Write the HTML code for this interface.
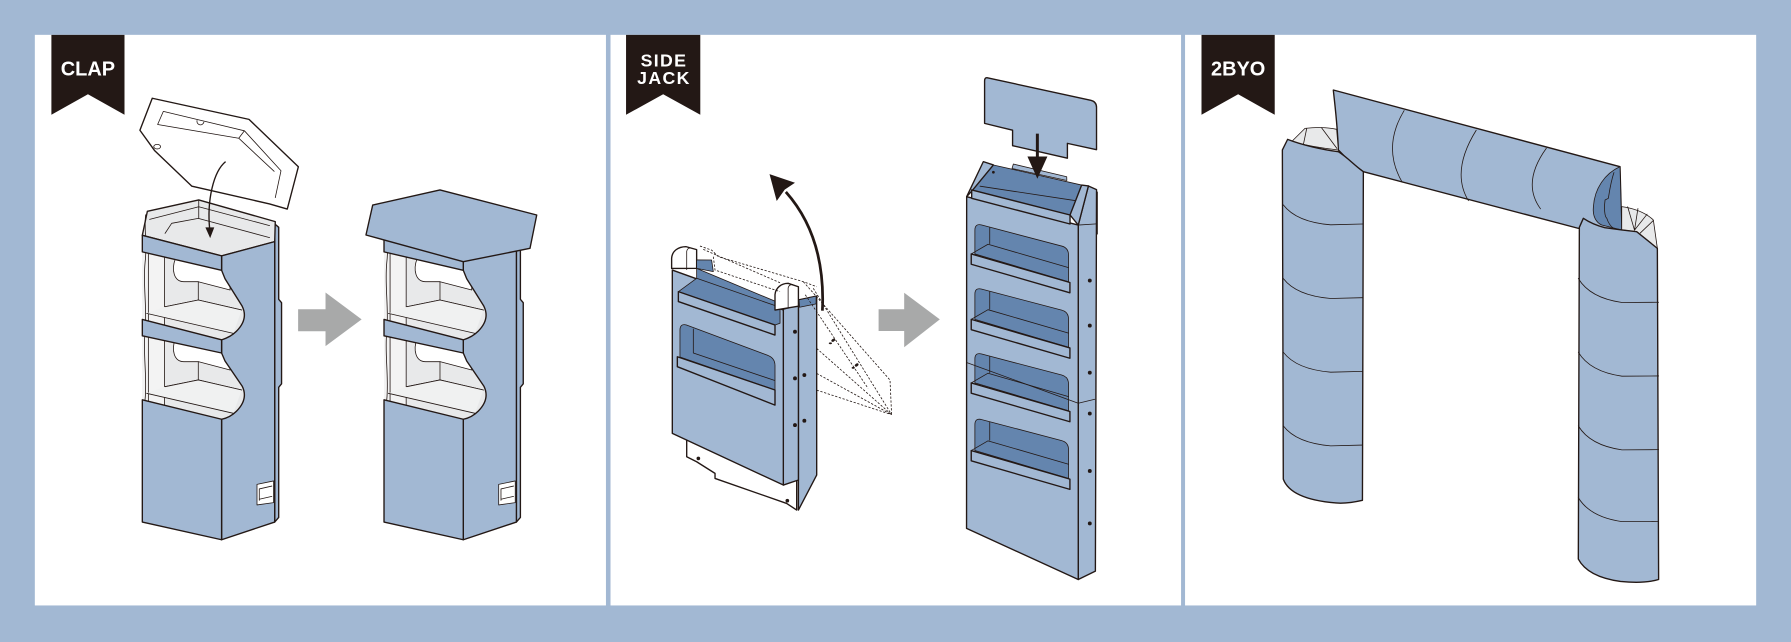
<!DOCTYPE html>
<html><head><meta charset="utf-8">
<style>
html,body{margin:0;padding:0;background:#a2b8d3;}
svg{display:block}
.o{stroke:#231815;stroke-width:1.2;stroke-linejoin:round;stroke-linecap:round}
.t{stroke-width:0.7}
.b{fill:#a2b8d3}
.d{fill:#6485ae}
.g{fill:#e8e9ea}
.w{fill:#ffffff}
.n{fill:none}
.k{fill:#231815}
.ds{fill:none;stroke:#231815;stroke-width:0.7;stroke-dasharray:2 1.4}
.lbl{font-family:"Liberation Sans",Arial,sans-serif;font-weight:bold;fill:#fff}
</style></head>
<body>
<svg width="1791" height="642" viewBox="0 0 1568 562" preserveAspectRatio="none" xmlns="http://www.w3.org/2000/svg">
<defs>
 <g id="op">
  <path fill="#f3f3f3" d="M124.6,215 L144,219.5 L144,287 L124.6,283 Z"/>
  <path class="n o t" d="M129.9,217 V284 M144,220 V286"/>
  <path class="w o t" d="M153.5,226.5 C150,236 152,246.6 161,246.6 L173.6,246.6 L201.4,253.9 L201.4,236.5 Z"/>
  <path class="n o t" d="M144.5,268.5 L173.6,262.6 L211.6,271.4 M173.6,246.6 V262.6"/>
  <path fill="#f0f1f1" d="M144.5,268.5 L173.6,262.6 L211.6,271.4 L204.3,291.8 L128.4,274.3 Z"/>
  <path class="n o t" d="M144.5,268.5 L173.6,262.6 L211.6,271.4 M128.4,274.3 L204.3,291.8"/>
 </g>
 <g id="cb">
  <path class="b o" d="M240.5,196 L244,199 L244,262 L246.5,265 L246.5,336 L244,339 L244,453 L240.5,457 Z"/>
  <path class="g" d="M124.6,206 L215,230 L215,372 L124.6,352 Z"/>
  <path class="g o" d="M124.6,206 L129,185 L174,175 L241,194 L240.5,211.5 L194,224 Z"/>
  <path class="n o t" d="M131,192 L174,181 L236,197.5 M144.5,204.3 L150.3,195.5 L173.6,191.2 L236,208 M174,175 V191.2"/>
  <use href="#op"/>
  <use href="#op" transform="translate(0,70)"/>
  <path class="n o t" d="M127.5,188 C126,200 129,215 127,230 C125,250 129,270 127,290 C125,310 129,330 127,350"/>
  <path class="b o" d="M194,224 L240.5,211.5 L240.5,457 L194,472.5 L194,367 C199,366 203,364 207,360 C214,353 216,346 212,338 L197,316 L194,309 L194,297.5 C199,296 203,294 207,290 C214,283 216,276 212,268 L197,244 L194,236.6 Z"/>
  <path class="b o" d="M124.6,206 L194,224 L194,236.6 L124.6,220.5 Z"/>
  <path class="b o" d="M124.6,279.6 L194,297.5 L194,309 L124.6,294 Z"/>
  <path class="b o" d="M124.6,350 L194,367 L194,472.5 L124.6,457 Z"/>
  <path class="w o t" d="M225,424 L239.5,421 L239.5,440 L225,442 Z"/>
  <path class="n o t" d="M227,428 L238,425.5 M227,437 L238,434.5 M227,428 V438"/>
 </g>
</defs>

<rect width="1568" height="562" fill="#a2b8d3"/>
<rect x="30.5" y="30.5" width="500" height="499.5" fill="#fff"/>
<rect x="534.5" y="30.5" width="499.5" height="499.5" fill="#fff"/>
<rect x="1037.5" y="30.5" width="500" height="499.5" fill="#fff"/>

<!-- Banners -->
<path class="k" d="M45,30.5 H109 V100.5 L77,82.5 L45,100.5 Z"/>
<text class="lbl" x="77" y="66.3" font-size="17.5" text-anchor="middle">CLAP</text>
<path class="k" d="M548.1,30.5 H613.1 V100.5 L580.6,82.5 L548.1,100.5 Z"/>
<text class="lbl" x="581.3" y="58.2" font-size="15.5" letter-spacing="1.2" text-anchor="middle">SIDE</text>
<text class="lbl" x="581.3" y="73.4" font-size="15.5" letter-spacing="1.2" text-anchor="middle">JACK</text>
<path class="k" d="M1051.9,30.5 H1116 V100.5 L1084,82.5 L1051.9,100.5 Z"/>
<text class="lbl" x="1084" y="66.3" font-size="17.5" text-anchor="middle">2BYO</text>

<!-- ===== CLAP ===== -->
<use href="#cb"/>
<path class="w o" d="M133.3,86 L218,104.5 L261.2,146 L251.5,183 L236,178.5 L168,163 L135.5,132 L122.5,114 Z"/>
<path class="n o t" d="M143,97.5 L214,114.5 L246,149.5 L241,173 M143,97.5 L138,109 L209,121 L240,150 M214,114.5 L209,121"/>
<path class="n o t" d="M172.5,105.5 a3,3 0 0 0 6,1.4"/>
<ellipse class="w o t" cx="137.6" cy="128.4" rx="3" ry="2"/>
<path class="n" stroke="#231815" stroke-width="1.2" d="M197.5,141.5 C187,150 181,175 183.6,201"/>
<path class="k" d="M179.8,199 L187.6,199 L184,208.5 Z"/>
<path fill="#a8a9a9" d="M261,270.7 H285 V256 L316.6,279.6 L285,303 V290 H261 Z"/>
<use href="#cb" transform="translate(211.6,0)"/>
<path class="b o" d="M326.3,179.5 L385.2,166.3 L469.9,188.2 L464,217.4 L405.6,229.1 L320.4,205.7 Z"/>

<!-- ===== SIDE JACK ===== -->
<path class="w o" d="M601.2,380 L601.2,399.8 L609.9,404.2 L626,414.4 L626,418.8 L688.7,440.7 L697.5,446.5 L697.5,420 Z"/>
<circle class="k" cx="611.4" cy="401.3" r="1.6"/>
<circle class="k" cx="689.3" cy="438.3" r="1.6"/>
<path class="b o" d="M699,262.6 L715,259.1 L715,415.9 L699,446.5 Z"/>
<path class="d o t" d="M699.5,262.5 L714.5,259.2 L714.5,266 L700,269 Z"/>
<path class="b o" d="M683,271.4 L699,267 L699,420.2 L685.8,424.6 Z"/>
<path class="b o" d="M588.6,236.4 L685.8,271.4 L685.8,424.6 L588.6,379.4 Z"/>
<path class="d o t" d="M593.9,255.3 L609.9,243.6 L609.9,234.9 L682.9,265.5 L682.9,283 L678.5,284.5 Z"/>
<path class="n o t" d="M609.9,243.6 L680,268"/>
<path class="b o" d="M593.9,255.3 L678.5,284.5 L678.5,293.3 L593.9,264 Z"/>
<path class="d o t" d="M595.3,312.5 L595.3,289 Q595.3,283 601,284.5 L672,311 Q678.5,313.5 678.5,320 L678.5,341.4 Z"/>
<path class="n o t" d="M607,288 V309 L678,333"/>
<path class="b o" d="M593,312.3 L678.5,341.4 L678.5,354.6 L593,321 Z"/>
<path class="w o" d="M588,235 L588,226 C588.5,219.5 594,215.9 600.5,215.9 L609.9,218.5 L609.9,234.9 Z"/>
<path class="n o t" d="M601.2,236 V220 C601.5,218 603,217 605,217"/>
<path class="w o" d="M678.5,271.4 L678.5,258 C679,252 684,248 690,248 L699,251 L699,268 Z"/>
<path class="n o t" d="M690,270 V252 C690.5,250 692,249 694,249"/>
<path class="d o t" d="M609.9,227.5 L623,227.6 L624.5,237.8 L609.9,234.9 Z"/>
<circle class="k" cx="696" cy="290.4" r="1.7"/>
<circle class="k" cx="696" cy="331.2" r="1.7"/>
<circle class="k" cx="696" cy="372.1" r="1.7"/>
<circle class="k" cx="704.2" cy="328.3" r="1.7"/>
<circle class="k" cx="704.2" cy="368.3" r="1.7"/>
<path class="ds" d="M612.8,215.4 L623,218.9 L628.9,224.7 L703.3,246.6 L715,251"/>
<path class="ds" d="M615.7,218.3 L682.9,247.5"/>
<path class="ds" d="M624.5,224.7 L626,236.4 L682.9,255.3"/>
<path class="ds" d="M703.3,246.6 L779.2,332.7 L780.6,363"/>
<path class="ds" d="M712,252.4 L780.6,363"/>
<path class="ds" d="M715,305 L780.6,363 M715,326.9 L780.6,363 M715,341.5 L780.6,363"/>
<path class="ds" d="M705,258 L760,340"/>
<ellipse class="k" cx="729.5" cy="297.8" rx="1.8" ry="1.2" transform="rotate(-35 729.5 297.8)"/>
<ellipse class="k" cx="727" cy="300.5" rx="1.4" ry="0.8"/>
<ellipse class="k" cx="750" cy="319.5" rx="1.8" ry="1.2" transform="rotate(-35 750 319.5)"/>
<ellipse class="k" cx="747" cy="322" rx="1.4" ry="0.8"/>
<path class="n" stroke="#231815" stroke-width="2.4" d="M720,272 C722,230 712,195 688,168"/>
<path class="k" d="M673.7,152.4 L696,160 L687,166 L680,176 Z"/>
<path fill="#a8a9a9" d="M769.2,270.7 H791.6 V256.3 L822.8,279.6 L791.6,304 V289.7 H769.2 Z"/>

<!-- header card -->
<path class="b o" d="M864,68 L955,87.8 Q960,89 960,94 L960,131 L934.5,125.5 L934.5,138.5 L886.5,127.5 L886.5,114 L862,108 L862,71 Q862,68 864,68 Z"/>
<!-- tall body -->
<path class="b o" d="M944,197 L952.9,162.8 L960,166 L959,500 L944,507.3 Z"/>
<path class="n o t" d="M944,197 L960,196 M960.8,168 V205"/>
<path class="b o" d="M846.3,172.2 L944,197 L944,507.3 L846.2,462.5 Z"/>
<path class="b o t" d="M886,147.5 L887.2,143.6 L933.9,154.7 L934,158 Z"/>
<path class="d o t" d="M851,167 L869.7,144.4 L947,162 L936.8,188.2 Z"/>
<path class="n o t" d="M858,163 L944,176"/>
<path class="b o" d="M846.3,172.2 L860.9,141.5 L869.7,144.4 L851,167 Z"/>
<path class="b o" d="M936.8,188.2 L947,162 L952.9,162.8 L944,197 Z"/>
<circle class="k" cx="869.7" cy="150.8" r="1.2"/>
<path class="b o" d="M850.7,166.3 L936.8,188.2 L936.8,196.1 L850.7,173.6 Z"/>

<!-- openings -->
<path class="d o t" d="M853.5,222.3 L853.5,201.4 Q853.5,195.4 859.5,197 L929.5,215.4 Q935.5,217 935.5,223.4 L935.5,246.7 Z"/>
<path class="n o t" d="M866.5,199.4 V213.3 M850.3,222.3 L865,213.8 L935.5,234.3"/>
<path class="b o" d="M850.3,222.3 L936.7,247.3 L936.7,256.3 L850.3,231.3 Z"/>

<path class="d o t" d="M853.5,279.6 L853.5,257.5 Q853.5,251.5 859.5,253.1 L929.5,271.5 Q935.5,273.1 935.5,279.5 L935.5,304 Z"/>
<path class="n o t" d="M866.5,255.5 V270.6 M850.3,279.6 L865,271.1 L935.5,291.6"/>
<path class="b o" d="M850.3,279.6 L936.7,304.6 L936.7,313.6 L850.3,288.6 Z"/>

<path class="d o t" d="M853.5,335.2 L853.5,314.3 Q853.5,308.3 859.5,309.9 L929.5,328.3 Q935.5,329.9 935.5,336.3 L935.5,359.6 Z"/>
<path class="n o t" d="M866.5,312.3 V326.2 M850.3,335.2 L865,326.7 L935.5,347.2"/>
<path class="b o" d="M850.3,335.2 L936.7,360.2 L936.7,369.2 L850.3,344.2 Z"/>

<path class="d o t" d="M853.5,394.4 L853.5,371.7 Q853.5,365.7 859.5,367.3 L929.5,385.7 Q935.5,387.3 935.5,393.7 L935.5,418.8 Z"/>
<path class="n o t" d="M866.5,369.7 V385.4 M850.3,394.4 L865,385.9 L935.5,406.4"/>
<path class="b o" d="M850.3,394.4 L936.7,419.4 L936.7,428.4 L850.3,403.4 Z"/>

<path class="n o t" d="M846.2,317.3 L944,353 L958.5,349.5"/>
<circle class="k" cx="954.1" cy="245.6" r="1.7"/>
<circle class="k" cx="954.1" cy="285" r="1.7"/>
<circle class="k" cx="954.1" cy="326.2" r="1.7"/>
<circle class="k" cx="954.1" cy="362" r="1.7"/>
<circle class="k" cx="954.1" cy="412.3" r="1.7"/>
<circle class="k" cx="954.1" cy="458.2" r="1.7"/>
<path class="n" stroke="#231815" stroke-width="2.6" d="M908.2,117 V142"/>
<path class="k" d="M899.5,137 L917,137 L908.2,156.5 Z"/>

<!-- ===== 2BYO ===== -->
<path class="b o" d="M1167.3,78.8 L1418.3,145.9 L1419.8,201.3 L1381.9,199.9 L1193.6,150.3 C1186,145 1178,138 1171.7,131.3 C1171,110 1169,95 1167.3,78.8 Z"/>
<path class="d o t" d="M1418.3,145.9 C1405,152 1396,165 1395,180.9 C1394,190 1398,195 1402.3,197 L1419.8,201.3 Z"/>
<path class="n o t" d="M1413,151 C1410,160 1409,168 1408.1,173.6 L1405.2,175.1 C1404,182 1405,190 1406.7,191 C1408,195 1410,198 1412.5,199.9"/>
<path class="n o t" d="M1229.3,96.8 Q1209.8,129 1227.6,159.5 M1292.4,114 Q1270,150 1285.6,175.7 M1353.8,129.8 Q1332,160 1348.7,182.8"/>
<path class="g o t" d="M1130.8,124 L1142.5,112.4 Q1158,110.5 1170.2,113.2 L1171.7,131.3 Q1150,129 1130.8,124 Z"/>
<path class="n o t" d="M1144,112.5 L1141,127 M1157,111.8 L1170.5,130"/>
<path class="b o" d="M1122.7,131.3 L1127.3,122 C1140,127 1158,131 1171.7,132.8 C1180,138 1186,145 1193.6,150.3 L1192.8,438 Q1180,441 1169.6,440.3 Q1130,437 1123.5,419.4 Z"/>
<path class="n o t" d="M1123.5,179.3 Q1135,194.3 1165,196.8 L1192.8,196.1 M1123.5,243.8 Q1135,258.8 1165,261.3 L1192.8,260.6 M1123.5,308.3 Q1135,323.3 1165,325.8 L1192.8,325.1 M1123.5,372.8 Q1135,387.8 1165,390.3 L1192.8,389.6"/>
<path class="g o t" d="M1419.8,201.3 L1419.8,180.9 Q1438,183.5 1447.5,192.6 L1451,217.4 L1432.9,202.8 Z"/>
<path class="n o t" d="M1425,181 L1431,201.5 M1434,182.5 L1431,201.5 M1442,187.5 L1431,201.5 M1447.5,193 L1436,204"/>
<path class="b o" d="M1382.7,199 L1386.2,191.1 C1392,195 1398,197.5 1405,199.3 L1419.8,201.3 L1432.9,202.8 L1451,217.4 L1452.1,507.3 Q1440,511 1418.7,509 Q1390,505 1381.8,489.4 Z"/>
<path class="n o t" d="M1381.8,243.8 Q1392,260.8 1420,264.8 L1452.1,264.6 M1381.8,308.3 Q1392,325.3 1420,329.3 L1452.1,329.1 M1381.8,372.8 Q1392,389.8 1420,393.8 L1452.1,393.6 M1381.8,435.6 Q1392,452.6 1420,456.6 L1452.1,456.4"/>
</svg>
</body></html>
